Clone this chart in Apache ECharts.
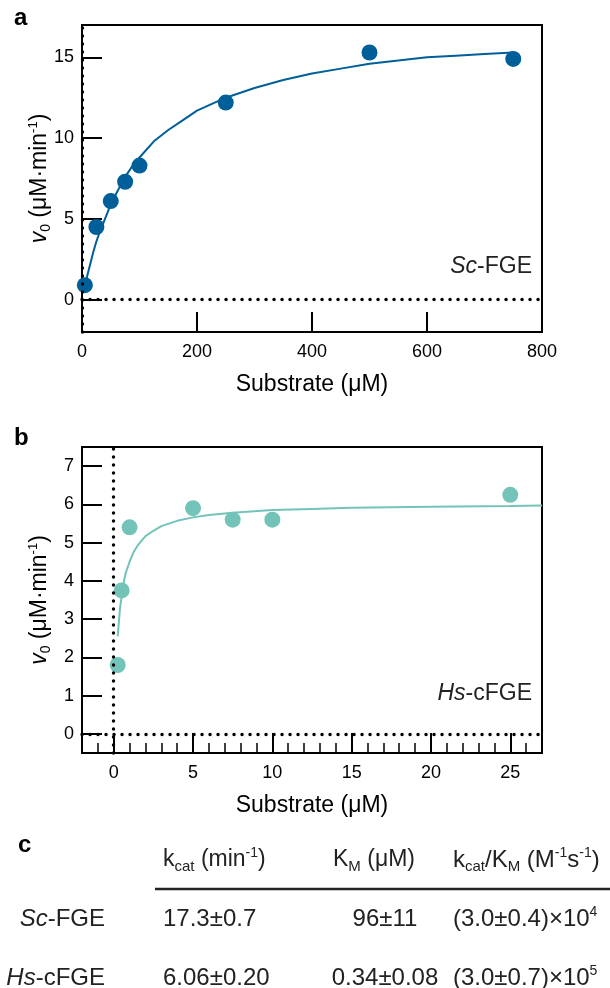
<!DOCTYPE html>
<html>
<head>
<meta charset="utf-8">
<script src="https://cdn.jsdelivr.net/npm/echarts@6/dist/echarts.min.js"></script>
<style>
  html, body { margin: 0; padding: 0; background: #fff; }
  #chart { width: 610px; height: 988px; }
</style>
</head>
<body>
<div id="chart"></div>
<script>
// panel a: Sc-FGE
const subA = [5, 25, 50, 75, 100, 250, 500, 750];
const rateA = [0.9, 4.5, 6.1, 7.3, 8.3, 12.2, 15.3, 14.9];
// fitted curve
const fitXA = [5, 10, 15, 20, 25, 30, 40, 50, 60, 75, 90, 100, 125, 150, 175, 200, 250, 300, 350, 400, 450, 500, 550, 600, 650, 700, 750];
const fitYA = [0.86, 1.6, 2.3, 3.0, 3.6, 4.1, 5.0, 5.9, 6.6, 7.6, 8.4, 8.8, 9.8, 10.5, 11.1, 11.7, 12.5, 13.1, 13.6, 14.0, 14.3, 14.6, 14.8, 15.0, 15.1, 15.2, 15.3];
const ticksXA = [0, 200, 400, 600, 800];
const ticksYA = [0, 5, 10, 15];

// panel b: Hs-cFGE
const subB = [0.25, 0.5, 1, 5, 7.5, 10, 25];
const rateB = [1.8, 3.75, 5.4, 5.9, 5.6, 5.6, 6.25];
const fitXB = [0.25, 0.3, 0.4, 0.5, 0.6, 0.75, 1, 1.25, 1.5, 2, 2.5, 3, 4, 5, 6, 7.5, 10, 12.5, 15, 20, 25, 27];
const fitYB = [2.55, 2.8, 3.3, 3.6, 3.9, 4.2, 4.5, 4.75, 4.92, 5.17, 5.31, 5.43, 5.57, 5.66, 5.72, 5.78, 5.85, 5.88, 5.91, 5.94, 5.96, 5.97];
const ticksXB = [0, 5, 10, 15, 20, 25];
const ticksYB = [0, 1, 2, 3, 4, 5, 6, 7];

// panel c: table
const enzymes = ['{i|Sc}-FGE', '{i|Hs}-cFGE'];
const kcat = ['17.3±0.7', '6.06±0.20'];
const km = ['96±11', '0.34±0.08'];
const eff = ['(3.0±0.4)×10{p|4}', '(3.0±0.7)×10{p|5}'];

const FONT = 'Liberation Sans, Arial, sans-serif';
const blue = '#005f99';
const teal = '#74c3b8';

const zip = (xs, ys) => xs.map((x, i) => [x, ys[i]]);

const nameRich = {
  i: { fontStyle: 'italic', fontSize: 23, fontFamily: FONT, color: '#000', lineHeight: 26 },
  sub: { fontSize: 14, fontFamily: FONT, color: '#000', lineHeight: 14, verticalAlign: 'bottom' },
  sup: { fontSize: 13, fontFamily: FONT, color: '#000', lineHeight: 13, verticalAlign: 'top' }
};
const yName = '{i|v}{sub|0} (μM·min{sup|-1})';

function xAx(grid, min, max, ticks) {
  return {
    type: 'value', gridIndex: grid, min: min, max: max, position: 'bottom',
    axisLine: { show: true, onZero: false, lineStyle: { color: '#000', width: 2 } },
    axisTick: { show: true, inside: true, length: 20, customValues: ticks, lineStyle: { color: '#000', width: 2 } },
    axisLabel: { customValues: ticks, showMinLabel: true, showMaxLabel: true, fontSize: 18, color: '#000', fontFamily: FONT, margin: 11 },
    splitLine: { show: false },
    name: 'Substrate (μM)', nameLocation: 'middle', nameGap: 41, nameMoveOverlap: false,
    nameTextStyle: { fontSize: 23, color: '#000', fontFamily: FONT }
  };
}
function yAx(grid, min, max, ticks) {
  return {
    type: 'value', gridIndex: grid, min: min, max: max,
    axisLine: { show: true, onZero: false, lineStyle: { color: '#000', width: 2 } },
    axisTick: { show: true, inside: true, length: 20, customValues: ticks, lineStyle: { color: '#000', width: 2 } },
    axisLabel: { customValues: ticks, showMinLabel: true, showMaxLabel: true, fontSize: 18, color: '#000', fontFamily: FONT, margin: 8 },
    splitLine: { show: false },
    name: yName, nameLocation: 'middle', nameGap: 29, nameMoveOverlap: false,
    nameTextStyle: { fontSize: 23, color: '#000', fontFamily: FONT, lineHeight: 26, rich: nameRich }
  };
}

const dotted = {
  silent: true, symbol: 'none', animation: false,
  label: { show: false },
  lineStyle: { color: '#000', width: 3.4, type: [0.1, 7.9], cap: 'round' },
  data: [{ yAxis: 0 }, { xAxis: 0 }]
};

function richFor(size) {
  return {
    i: { fontStyle: 'italic', fontSize: size, fontFamily: FONT, fill: '#222', lineHeight: 28 },
    s: { fontSize: 15, fontFamily: FONT, fill: '#222', lineHeight: 15, verticalAlign: 'bottom' },
    p: { fontSize: 14, fontFamily: FONT, fill: '#222', lineHeight: 14, verticalAlign: 'top' }
  };
}
function label(text, x, y, align, size) {
  size = size || 24;
  return {
    type: 'text', z: 10,
    style: {
      text: text, x: x, y: y, align: align || 'left', verticalAlign: 'middle',
      fontSize: size, fontFamily: FONT, fill: '#222', lineHeight: 28, rich: richFor(size)
    }
  };
}

const graphics = [
  { type: 'text', style: { text: 'a', x: 14, y: 18, verticalAlign: 'middle', fontSize: 24, fontWeight: 'bold', fontFamily: FONT, fill: '#000' } },
  { type: 'text', style: { text: 'b', x: 14, y: 438, verticalAlign: 'middle', fontSize: 24, fontWeight: 'bold', fontFamily: FONT, fill: '#000' } },
  { type: 'text', style: { text: 'c', x: 18, y: 845, verticalAlign: 'middle', fontSize: 24, fontWeight: 'bold', fontFamily: FONT, fill: '#000' } },
  label('{i|Sc}-FGE', 532, 267, 'right', 23),
  label('{i|Hs}-cFGE', 532, 694, 'right', 23),
  label('k{s|cat} (min{p|-1})', 163, 860, 'left', 23),
  label('K{s|M} (μM)', 333, 860, 'left', 23),
  label('k{s|cat}/K{s|M} (M{p|-1}s{p|-1})', 453, 860, 'left', 24),
  { type: 'line', shape: { x1: 155, y1: 889, x2: 610, y2: 889 }, style: { stroke: '#222', lineWidth: 2.5 } }
];
const rowY = [919, 978];
enzymes.forEach((e, i) => {
  graphics.push(label(e, 105, rowY[i], 'right'));
  graphics.push(label(kcat[i], 163, rowY[i]));
  graphics.push(label(km[i], 385, rowY[i], 'center'));
  graphics.push(label(eff[i], 453, rowY[i]));
});

const chart = echarts.init(document.getElementById('chart'), null, { renderer: 'canvas' });
const option = {
  animation: false,
  backgroundColor: '#fff',
  grid: [
    { left: 82, top: 25, width: 460, height: 307, show: true, borderColor: '#000', borderWidth: 2, containLabel: false },
    { left: 82, top: 447, width: 460, height: 306, show: true, borderColor: '#000', borderWidth: 2, containLabel: false }
  ],
  xAxis: [
    xAx(0, 0, 800, ticksXA),
    xAx(1, -2, 27, ticksXB),
    {
      // minor ticks of panel b
      type: 'value', gridIndex: 1, min: -2, max: 27, interval: 1, position: 'bottom', offset: 0,
      axisLine: { show: false, onZero: false },
      axisTick: { show: true, inside: true, length: 10, lineStyle: { color: '#000', width: 1.5 } },
      axisLabel: { show: false },
      splitLine: { show: false }
    }
  ],
  yAxis: [
    yAx(0, -2, 17, ticksYA),
    yAx(1, -0.5, 7.5, ticksYB)
  ],
  series: [
    {
      type: 'line', xAxisIndex: 0, yAxisIndex: 0, data: zip(fitXA, fitYA),
      showSymbol: false, smooth: false, z: 2,
      lineStyle: { color: blue, width: 2 }, markLine: dotted
    },
    {
      type: 'scatter', xAxisIndex: 0, yAxisIndex: 0, data: zip(subA, rateA),
      symbolSize: 16, itemStyle: { color: blue, opacity: 1 }, z: 3
    },
    {
      type: 'line', xAxisIndex: 1, yAxisIndex: 1, data: zip(fitXB, fitYB),
      showSymbol: false, smooth: false, z: 2,
      lineStyle: { color: teal, width: 2 }, markLine: dotted
    },
    {
      type: 'scatter', xAxisIndex: 1, yAxisIndex: 1, data: zip(subB, rateB),
      symbolSize: 16, itemStyle: { color: teal, opacity: 1 }, z: 3
    }
  ],
  graphic: graphics
};
chart.setOption(option);
</script>
</body>
</html>
